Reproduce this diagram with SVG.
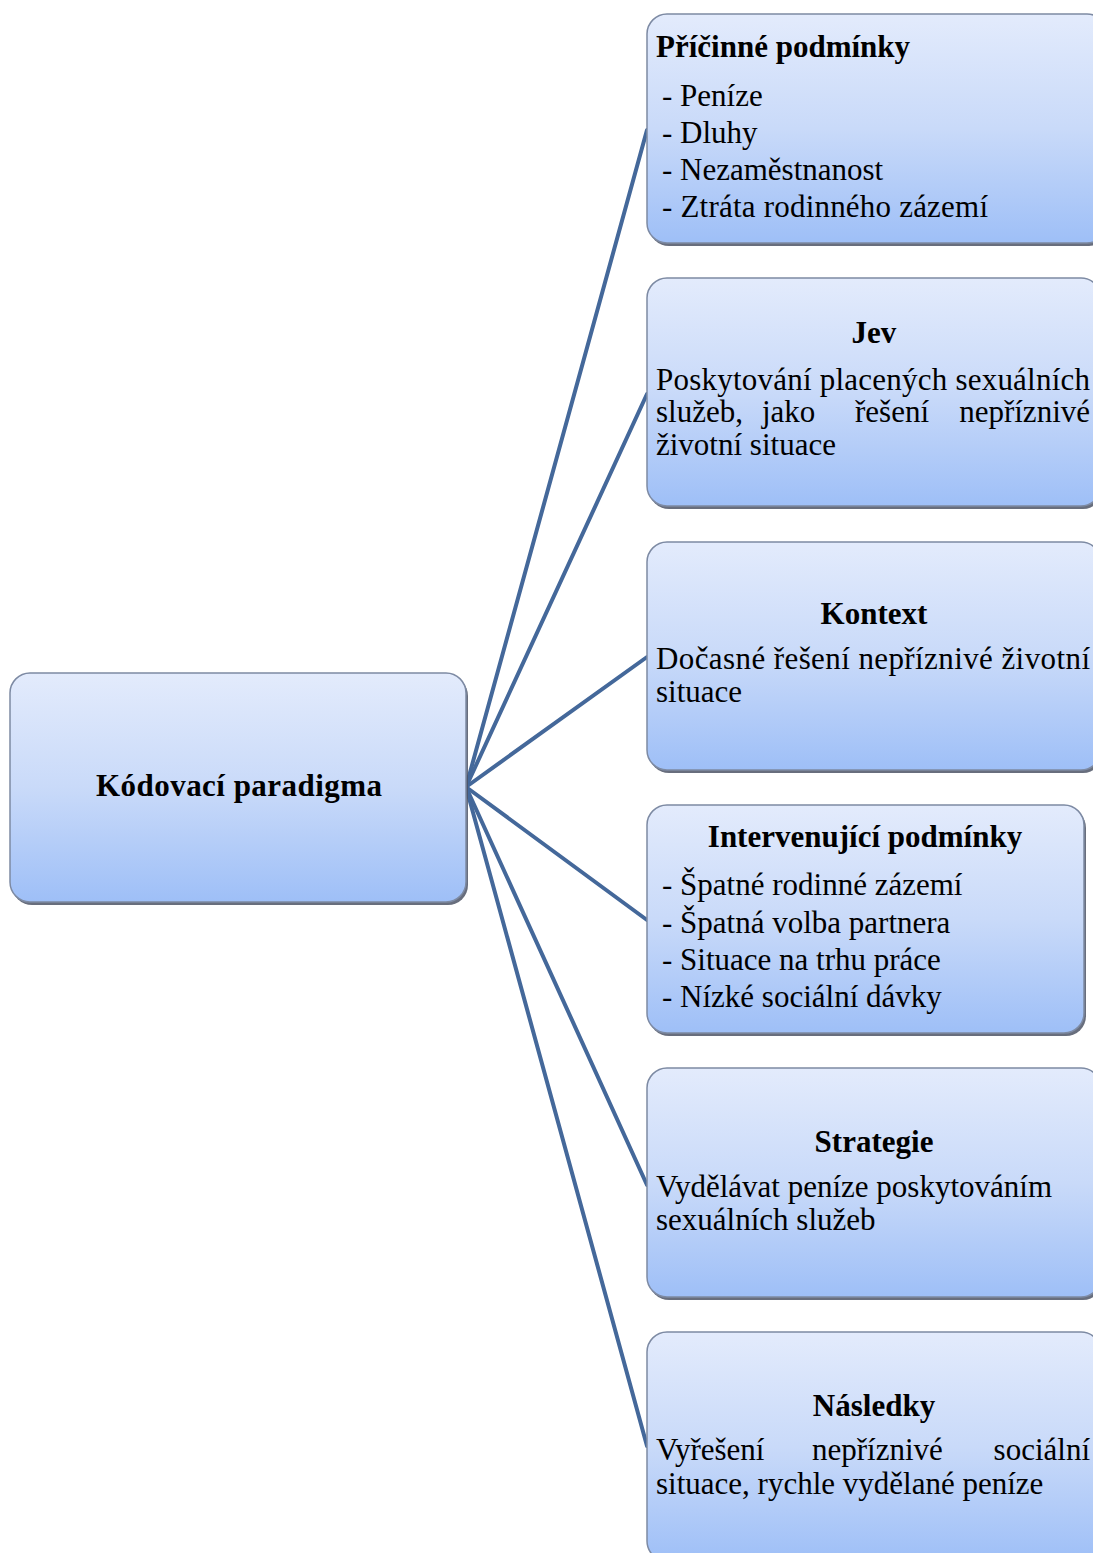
<svg xmlns="http://www.w3.org/2000/svg" width="1093" height="1553" viewBox="0 0 1093 1553">
<defs>
<linearGradient id="g" x1="0" y1="0" x2="0" y2="1">
<stop offset="0" stop-color="#e3ebfc"/>
<stop offset="0.5" stop-color="#c9daf9"/>
<stop offset="1" stop-color="#9ebff7"/>
</linearGradient>
<style>
.box{fill:url(#g);stroke:#7d8aa3;stroke-width:1.5}
.sh{fill:#4d5566;opacity:0.85}
.t{font-family:"Liberation Serif","Times New Roman",serif;font-size:31px;fill:#000}
.b{font-weight:bold}
.c{text-anchor:middle}
.e{text-anchor:end}
.ln{stroke:#44689a;stroke-width:4;fill:none;stroke-linecap:round}
</style>
</defs>
<rect width="1093" height="1553" fill="#fff"/>
<g id="connectors">
<line class="ln" x1="466" y1="787" x2="647" y2="130"/>
<line class="ln" x1="466" y1="787" x2="647" y2="394"/>
<line class="ln" x1="466" y1="787" x2="647" y2="657"/>
<line class="ln" x1="466" y1="787" x2="647" y2="920"/>
<line class="ln" x1="466" y1="787" x2="647" y2="1185"/>
<line class="ln" x1="466" y1="787" x2="647" y2="1446"/>
</g>
<g id="center">
<rect class="sh" x="12" y="676" width="456" height="229" rx="20"/>
<rect class="box" x="10" y="673" width="456" height="229" rx="20"/>
<text class="t b c" x="239" y="796" textLength="286" lengthAdjust="spacing">Kódovací paradigma</text>
</g>
<g id="pricinne">
<rect class="sh" x="649" y="17" width="460" height="229" rx="20"/>
<rect class="box" x="647" y="14" width="460" height="229" rx="20"/>
<text class="t b" x="656" y="57">Příčinné podmínky</text>
<text class="t" x="662" y="106">- Peníze</text>
<text class="t" x="662" y="143">- Dluhy</text>
<text class="t" x="662" y="180">- Nezaměstnanost</text>
<text class="t" x="662" y="217" textLength="326" lengthAdjust="spacing">- Ztráta rodinného zázemí</text>
</g>
<g id="jev">
<rect class="sh" x="649" y="281" width="454" height="228" rx="20"/>
<rect class="box" x="647" y="278" width="454" height="228" rx="20"/>
<text class="t b c" x="874" y="343">Jev</text>
<text class="t" x="656" y="390" textLength="434" lengthAdjust="spacing">Poskytování placených sexuálních</text>
<text class="t" x="656" y="422">služeb,</text>
<text class="t" x="762" y="422">jako</text>
<text class="t" x="855" y="422">řešení</text>
<text class="t e" x="1090" y="422">nepříznivé</text>
<text class="t" x="656" y="455">životní situace</text>
</g>
<g id="kontext">
<rect class="sh" x="649" y="545" width="454" height="228" rx="20"/>
<rect class="box" x="647" y="542" width="454" height="228" rx="20"/>
<text class="t b c" x="874" y="624">Kontext</text>
<text class="t" x="656" y="669" textLength="434" lengthAdjust="spacing">Dočasné řešení nepříznivé životní</text>
<text class="t" x="656" y="702">situace</text>
</g>
<g id="intervenujici">
<rect class="sh" x="649" y="808" width="437" height="228" rx="20"/>
<rect class="box" x="647" y="805" width="437" height="228" rx="20"/>
<text class="t b c" x="865" y="847">Intervenující podmínky</text>
<text class="t" x="662" y="895">- Špatné rodinné zázemí</text>
<text class="t" x="662" y="933">- Špatná volba partnera</text>
<text class="t" x="662" y="970">- Situace na trhu práce</text>
<text class="t" x="662" y="1007">- Nízké sociální dávky</text>
</g>
<g id="strategie">
<rect class="sh" x="649" y="1071" width="454" height="229" rx="20"/>
<rect class="box" x="647" y="1068" width="454" height="229" rx="20"/>
<text class="t b c" x="874" y="1152">Strategie</text>
<text class="t" x="656" y="1197">Vydělávat peníze poskytováním</text>
<text class="t" x="656" y="1230">sexuálních služeb</text>
</g>
<g id="nasledky">
<rect class="sh" x="649" y="1335" width="454" height="229" rx="20"/>
<rect class="box" x="647" y="1332" width="454" height="229" rx="20"/>
<text class="t b c" x="874" y="1416">Následky</text>
<text class="t" x="656" y="1460">Vyřešení</text>
<text class="t" x="812" y="1460">nepříznivé</text>
<text class="t e" x="1090" y="1460">sociální</text>
<text class="t" x="656" y="1494">situace, rychle vydělané peníze</text>
</g>
</svg>
